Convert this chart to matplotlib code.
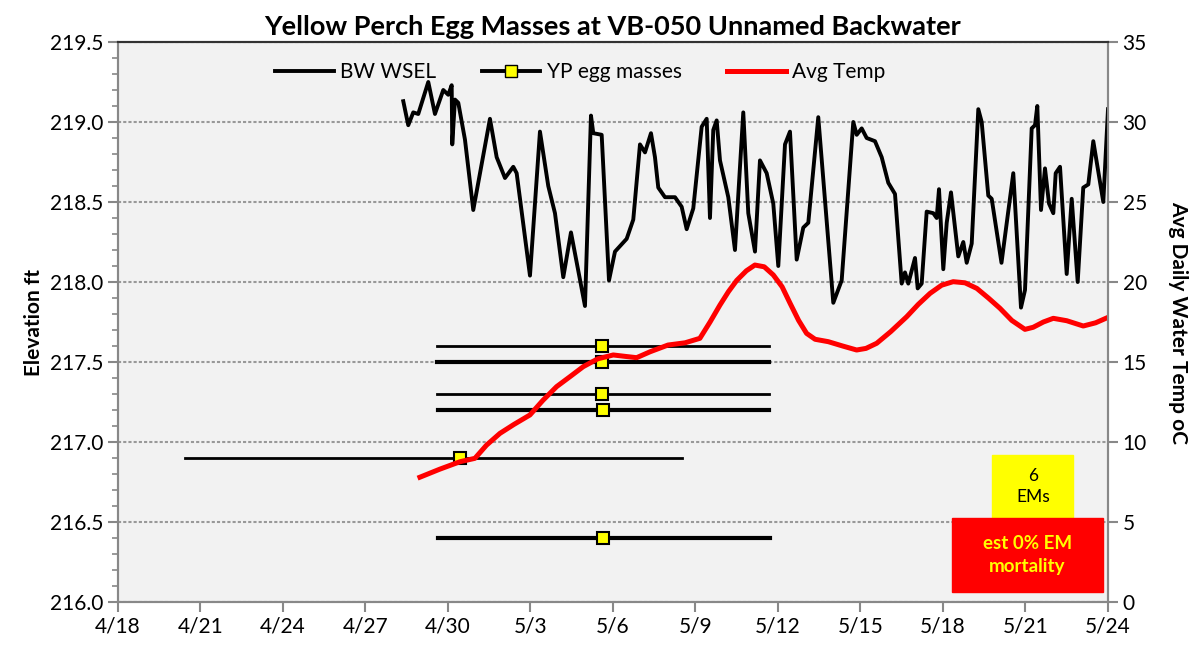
import matplotlib
matplotlib.use("Agg")
import matplotlib.pyplot as plt
from matplotlib.lines import Line2D
from matplotlib.patches import Rectangle

plt.rcParams['font.family'] = ['Lato', 'DejaVu Sans']

# x values are days after 4/18
wsel_day = [10.375, 10.556, 10.738, 10.92, 11.284, 11.527, 11.829, 12.011, 12.135, 12.156,
            12.255, 12.375, 12.618, 12.92, 13.527, 13.771, 14.073, 14.375, 14.498, 14.982,
            15.345, 15.647, 15.891, 16.193, 16.473, 16.982, 17.2, 17.284, 17.589, 17.855,
            18.073, 18.498, 18.738, 18.982, 19.164, 19.382, 19.527, 19.647, 19.891, 20.255,
            20.498, 20.68, 20.92, 21.225, 21.407, 21.527, 21.647, 21.771, 21.891, 22.193,
            22.436, 22.738, 22.92, 23.164, 23.345, 23.589, 23.829, 24.011, 24.255, 24.436,
            24.68, 24.92, 25.102, 25.465, 26.011, 26.316, 26.738, 26.862, 27.044, 27.225,
            27.527, 27.771, 28.011, 28.255, 28.498, 28.618, 28.738, 28.982, 29.08, 29.225,
            29.407, 29.647, 29.771, 29.855, 30.011, 30.135, 30.291, 30.556, 30.738, 30.862,
            31.044, 31.284, 31.407, 31.647, 31.771, 32.127, 32.556, 32.836, 32.982, 33.225,
            33.345, 33.429, 33.564, 33.709, 33.855, 34.011, 34.098, 34.255, 34.498, 34.68,
            34.898, 35.1, 35.284, 35.465, 35.829, 36.0]
wsel_elev = [219.13, 218.98, 219.06, 219.05, 219.25, 219.05, 219.20, 219.17, 219.23, 218.86,
             219.14, 219.12, 218.89, 218.45, 219.02, 218.78, 218.65, 218.72, 218.68, 218.04,
             218.94, 218.60, 218.43, 218.03, 218.31, 217.85, 219.04, 218.93, 218.92, 218.01,
             218.19, 218.27, 218.39, 218.86, 218.81, 218.93, 218.78, 218.59, 218.53, 218.53,
             218.47, 218.33, 218.46, 218.97, 219.02, 218.40, 218.95, 219.01, 218.76, 218.53,
             218.20, 219.06, 218.43, 218.19, 218.76, 218.68, 218.49, 218.10, 218.86, 218.94,
             218.14, 218.34, 218.37, 219.03, 217.87, 218.01, 219.00, 218.92, 218.96, 218.90,
             218.88, 218.78, 218.62, 218.55, 217.99, 218.06, 217.99, 218.15, 217.96, 217.99,
             218.44, 218.43, 218.40, 218.58, 218.08, 218.37, 218.56, 218.16, 218.25, 218.12,
             218.24, 219.08, 219.00, 218.54, 218.52, 218.12, 218.68, 217.84, 217.95, 218.96,
             218.98, 219.10, 218.45, 218.71, 218.49, 218.43, 218.68, 218.72, 218.05, 218.52,
             218.00, 218.59, 218.61, 218.88, 218.50, 219.08]

temp_day = [10.98, 11.7, 12.44, 12.98, 13.4, 13.89, 14.4, 14.98, 15.45, 15.95, 16.45,
            16.92, 17.45, 18.01, 18.45, 18.86, 19.35, 20.0, 20.62, 21.16, 21.53, 21.89,
            22.2, 22.5, 22.85, 23.16, 23.5, 23.83, 24.15, 24.44, 24.75, 25.04, 25.35,
            25.83, 26.35, 26.86, 27.2, 27.59, 28.1, 28.68, 29.1, 29.53, 29.95, 30.37,
            30.8, 31.23, 31.65, 32.07, 32.5, 32.98, 33.28, 33.65, 34.01, 34.5, 35.1,
            35.55, 36.0]
temp_c = [7.8, 8.3, 8.77, 8.98, 9.8, 10.54, 11.1, 11.69, 12.6, 13.46, 14.1,
          14.71, 15.2, 15.44, 15.35, 15.27, 15.64, 16.06, 16.2, 16.48, 17.5, 18.56,
          19.4, 20.1, 20.7, 21.06, 20.95, 20.44, 19.7, 18.67, 17.6, 16.79, 16.42,
          16.27, 16.0, 15.75, 15.85, 16.17, 16.9, 17.83, 18.6, 19.29, 19.8, 20.02,
          19.95, 19.6, 19.0, 18.36, 17.6, 17.04, 17.17, 17.5, 17.73, 17.58, 17.25,
          17.45, 17.79]

egg_day = [17.6, 17.6, 17.6, 17.64, 12.44, 17.64]
egg_elev = [217.6, 217.5, 217.3, 217.2, 216.9, 216.4]
egg_start = [11.6, 11.6, 11.6, 11.65, 2.44, 11.65]
egg_end = [23.67, 23.67, 23.67, 23.67, 20.51, 23.7]
egg_lw = [2.0, 3.0, 2.0, 3.0, 2.0, 3.0]

x_ticks = list(range(0, 37, 3))
x_labels = ["4/18", "4/21", "4/24", "4/27", "4/30", "5/3", "5/6", "5/9",
            "5/12", "5/15", "5/18", "5/21", "5/24"]

fig = plt.figure(figsize=(11.95, 6.49), dpi=100)
ax = fig.add_axes([0.0987, 0.0724, 0.8285, 0.8629])
ax.set_facecolor('#f2f2f2')
ax2 = ax.twinx()

ax.plot(wsel_day, wsel_elev, color='black', lw=2.8, zorder=3,
        solid_joinstyle='round')

for d, e, s, f, w in zip(egg_day, egg_elev, egg_start, egg_end, egg_lw):
    ax.plot([s, f], [e, e], color='black', lw=w, zorder=3)
ax.plot(egg_day, egg_elev, ls='none', marker='s', ms=8, mfc='#ffff00',
        mec='black', mew=1.5, zorder=4)

ax2.plot(temp_day, temp_c, color='#ff0000', lw=3.6, solid_joinstyle='round')

ax.set_xlim(0, 36)
ax.set_ylim(216.0, 219.5)
ax2.set_ylim(0, 35)
ax.set_xticks(x_ticks)
ax.set_xticklabels(x_labels)
ax.set_yticks([216.0 + 0.5 * i for i in range(8)])
ax.set_yticks([216.0 + 0.1 * i for i in range(36)], minor=True)
ax.yaxis.set_major_formatter(matplotlib.ticker.FormatStrFormatter('%.1f'))
ax2.set_yticks(range(0, 36, 5))

ax.grid(axis='y', which='major', ls=(0, (1.5, 1)), color='#999999', lw=1.5)
ax.tick_params(axis='both', which='major', labelsize=15, length=7, width=1.5,
               color='#888888', direction='out')
ax.tick_params(axis='y', which='minor', length=4, width=1.2, color='#888888')
ax2.tick_params(axis='y', labelsize=15, length=7, width=1.5, color='#888888')
for a in (ax, ax2):
    for sp in a.spines.values():
        sp.set_color('#888888')
        sp.set_linewidth(1.5)
    a.spines['top'].set_color('#333333')

ax.set_ylabel('Elevation ft', fontsize=15, fontweight='bold')
ax2.set_ylabel('Avg Daily Water Temp oC', fontsize=15, fontweight='bold',
               rotation=-90, labelpad=30)
ax.set_title('Yellow Perch Egg Masses at VB-050 Unnamed Backwater',
             fontsize=19.5, fontweight='bold', pad=5)

handles = [Line2D([], [], color='black', lw=2.8),
           Line2D([], [], color='black', lw=2.8, marker='s', ms=8,
                  mfc='#ffff00', mec='black'),
           Line2D([], [], color='#ff0000', lw=3.6)]
ax.legend(handles, ['BW WSEL', 'YP egg masses', 'Avg Temp'], ncol=3,
          loc='center', bbox_to_anchor=(0.467, 0.946), frameon=False,
          fontsize=15, handlelength=2.8, columnspacing=2.2, handletextpad=0.3)

ax.add_patch(Rectangle((0.883, 0.15), 0.082, 0.1125, transform=ax.transAxes,
                       color='#ffff00', zorder=5))
ax.text(0.924, 0.206, '6\nEMs', transform=ax.transAxes, ha='center', va='center',
        fontsize=12.5, linespacing=1.4, zorder=6)
ax.add_patch(Rectangle((0.842, 0.018), 0.153, 0.132, transform=ax.transAxes,
                       color='#ff0000', zorder=5))
ax.text(0.9185, 0.084, 'est 0% EM\nmortality', transform=ax.transAxes,
        ha='center', va='center', fontsize=13.5, fontweight='bold', color='#ffff00',
        linespacing=1.4, zorder=6)

fig.savefig('out.png', dpi=100)
